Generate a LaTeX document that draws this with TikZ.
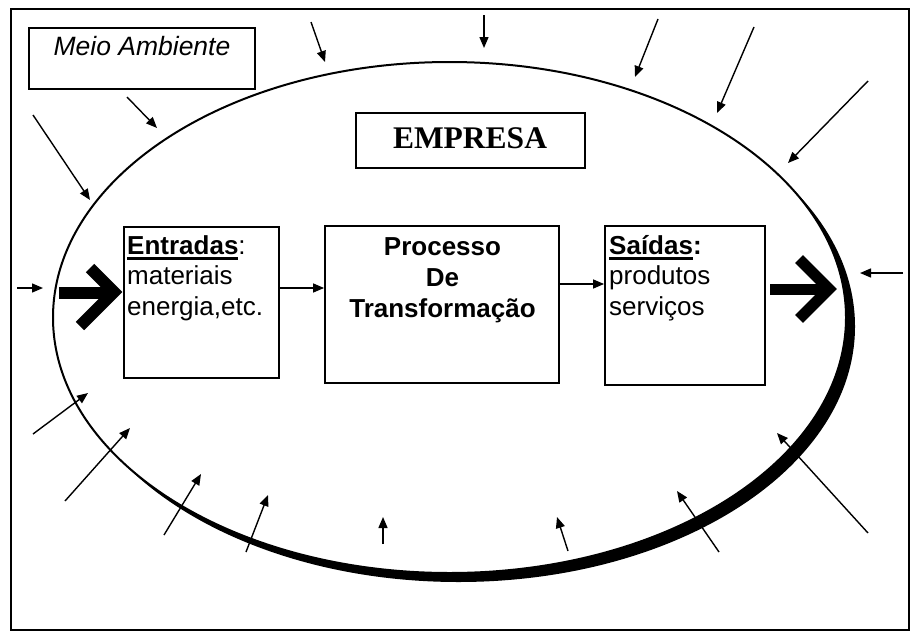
\documentclass[tikz,border=0pt]{standalone}
\usepackage{fontspec}
\setmainfont{Liberation Sans}
\newfontfamily\timesf{Liberation Serif}
\usetikzlibrary{arrows.meta}
\newcommand\myul[1]{\setbox0=\hbox{#1}\rlap{\rule[-5.5pt]{\wd0}{2.5pt}}\box0}
\begin{document}
\begin{tikzpicture}[x=1pt,y=-1pt,
  box/.style={draw, line width=1.8pt, inner sep=0pt},
  arr/.style={line width=1.4pt, -{Triangle[length=11pt,width=9pt]}},
  chev/.style={line width=12pt, line join=miter, line cap=butt},
  txt/.style={inner sep=0pt, font=\fontsize{26}{31}\selectfont}]
\useasboundingbox (0,0) rectangle (912,632);
\fill[white] (0,0) rectangle (912,632);
\draw[line width=2pt] (11,9) rectangle (908.5,629.5);
% ellipse with shadow
\fill[black] (458.5,326.5) ellipse [x radius=396.5pt, y radius=255.5pt];
\filldraw[fill=white, line width=2pt] (449.5,317.5) ellipse [x radius=396.5pt, y radius=255.5pt];
% Meio Ambiente
\node[box, line width=1.5pt, minimum width=226pt, minimum height=61pt] (meio) at (142,58.5) {};
\node[txt, anchor=base, font=\itshape\fontsize{26.5}{31}\selectfont] (meiot) at (142,55) {Meio Ambiente};
% EMPRESA
\node[box, minimum width=229pt, minimum height=55pt] (emp) at (470.5,140.5) {};
\node[txt, anchor=base, font=\timesf\bfseries\fontsize{31.5}{36}\selectfont] (empt) at (470,148) {EMPRESA};
% chevrons
\draw[chev] (59,292.5) -- (114,292.5);
\draw[chev] (90,268) -- (114,292) -- (80,326);
\draw[chev, line width=11pt] (770,289.5) -- (829,289.5);
\draw[chev, line width=11pt] (799,259) -- (829,289) -- (799,319);
% boxes
\node[box, minimum width=155pt, minimum height=151pt] (ent) at (201.5,302.5) {};
\node[box, minimum width=234pt, minimum height=157pt] (proc) at (442,304.5) {};
\node[box, minimum width=160pt, minimum height=159pt] (sai) at (685,305.5) {};
\node[txt, anchor=base west] (entt) at (127,254) {\vtop{\baselineskip=30.5pt
  \hbox{\myul{\bfseries Entradas}:}\hbox{materiais}\hbox{energia,etc.}}};
\node[txt, anchor=base, font=\bfseries\fontsize{26}{31}\selectfont] (proct) at (442.5,255) {\vtop{\baselineskip=31pt
  \hbox to 0pt{\hss Processo\hss}\hbox to 0pt{\hss De\hss}\hbox to 0pt{\hss Transformação\hss}}};
\node[txt, anchor=base west] (sait) at (609,254) {\vtop{\baselineskip=30.5pt
  \hbox{\bfseries\myul{Saídas}:}\hbox{produtos}\hbox{serviços}}};
% connectors
\draw[arr] ([yshift=14.5pt]ent.east) -- ([yshift=14.5pt]ent.east -| proc.west);
\draw[arr] ([yshift=20.5pt]proc.east) -- ([yshift=20.5pt]proc.east -| sai.west);
% environment arrows
\foreach \i/\ax/\ay/\bx/\by in {1/33/115/90/200, 2/127/97/157/128, 3/311/22/325/62,
  4/484/15/484/48, 5/658/19/635/77, 6/754/27/717/113, 7/868/81/788/163,
  8/903/273/860/273, 9/17/288/43/288, 10/33/434/88/393, 11/65/501/130/428,
  12/164/535/201/474, 13/246/552/268/495, 14/383/544/383/517, 15/568/551/557/517,
  16/719/552/677/491, 17/868/533/777/433}{
  \coordinate (s\i) at (\ax,\ay);
  \coordinate (e\i) at (\bx,\by);
  \draw[arr] (s\i) -- (e\i);
}
\end{tikzpicture}
\end{document}
